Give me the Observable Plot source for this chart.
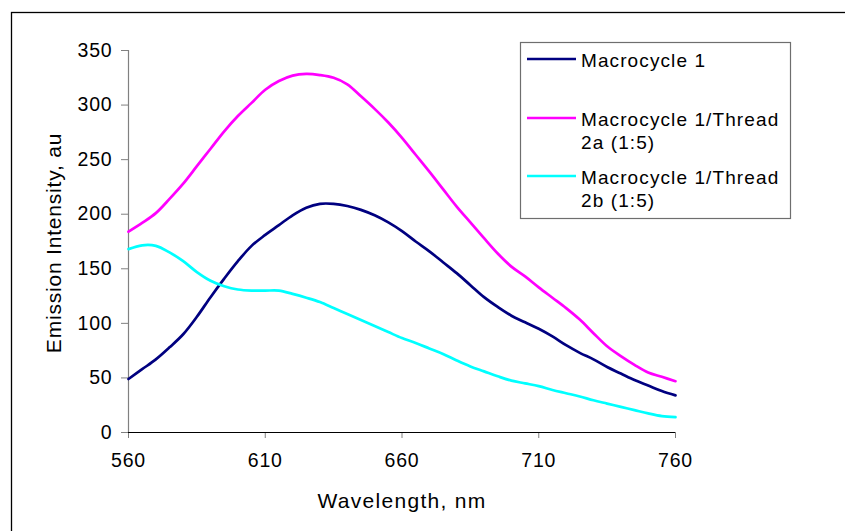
<!DOCTYPE html>
<html>
<head>
<meta charset="utf-8">
<script src="https://cdn.jsdelivr.net/npm/d3@7"></script>
<script src="https://cdn.jsdelivr.net/npm/@observablehq/plot@0.6"></script>
<style>
  html, body { margin: 0; padding: 0; background: #fff; }
  #chart { width: 845px; height: 531px; overflow: hidden; }
</style>
</head>
<body>
<div id="chart"></div>
<script>
// ---- data ----
const wavelengths = [560,565,570,575,580,585,590,595,600,605,610,615,620,625,630,635,640,645,650,655,660,
                     665,670,675,680,685,690,695,700,705,710,715,720,725,730,735,740,745,750,755,760];
const macrocycle1 = [49,58,67,78,90,106,124,141,157,171,181,190,199,206,209.5,209.5,207.5,204,199,192.5,184.5,
                     175,166,156,146,135,124,115,107,101,95,88,80,73,67,60,54,48,43,38,34];
const thread2a    = [184,192,201,214,228,244,260,276,290,302,314,322,327,328.5,327.5,325,319,308,296.5,284,270,
                     254.5,239,223,207,192.5,178,164,152,143,133,123.5,114,103.5,91,79,70,62,55,51,47];
const thread2b    = [168,171.5,171,165,157,147,139,134,131,130,130,130,127,123.5,119.5,114,108.5,103,97.5,92,86.5,
                     82,77,72,66,60.5,56,51.5,47.5,45,42.5,39,36,33,29.5,26.5,23.5,20.5,17.5,15,14];
const seriesNames = ["Macrocycle 1", "Macrocycle 1/Thread 2a (1:5)", "Macrocycle 1/Thread 2b (1:5)"];
const legendLines = [["Macrocycle 1"], ["Macrocycle 1/Thread", "2a (1:5)"], ["Macrocycle 1/Thread", "2b (1:5)"]];
const seriesColors = ["#000080", "#ff00ff", "#00ffff"];
const xTicks = [560, 610, 660, 710, 760];
const yTicks = [0, 50, 100, 150, 200, 250, 300, 350];
const xTitle = "Wavelength, nm";
const yTitle = "Emission Intensity, au";

const seriesValues = [macrocycle1, thread2a, thread2b];
const rows = [];
seriesValues.forEach((vals, s) => vals.forEach((v, i) => rows.push({series: seriesNames[s], x: wavelengths[i], y: v})));

const font = "'Liberation Sans', Arial, sans-serif";

const chart = Plot.plot({
  width: 845,
  height: 531,
  marginLeft: 128,
  marginRight: 170,
  marginTop: 50,
  marginBottom: 99,
  style: {fontFamily: font, fontSize: "19.5px", color: "#000", background: "#fff", overflow: "visible"},
  x: {domain: [560, 760], label: null},
  y: {domain: [0, 350], label: null},
  color: {domain: seriesNames, range: seriesColors},
  marks: [
    Plot.axisX({ticks: xTicks, tickSize: 6, tickPadding: 15, tickFormat: d => String(d), label: null, stroke: "#808080", fill: "#000", fontSize: 19.5}),
    Plot.axisY({ticks: yTicks, tickSize: 7, tickPadding: 9, tickFormat: d => String(d), label: null, stroke: "#808080", fill: "#000", fontSize: 19.5}),
    Plot.ruleX([560], {y1: 0, y2: 350, stroke: "#808080", strokeWidth: 1.2}),
    Plot.ruleY([0], {x1: 560, x2: 760, stroke: "#000", strokeWidth: 1.2}),
    Plot.line(rows, {x: "x", y: "y", z: "series", stroke: "series", strokeWidth: 2.7, curve: "catmull-rom"})
  ]
});

document.getElementById("chart").appendChild(chart);

const svg = d3.select(chart);
svg.selectAll("text").style("letter-spacing", "0.8px").style("font-size", "19.5px");

// outer chart-area border
svg.append("rect")
  .attr("x", 11.5).attr("y", 12.5).attr("width", 900).attr("height", 600)
  .attr("fill", "none").attr("stroke", "#000").attr("stroke-width", 1.3);

// axis titles
svg.append("text")
  .attr("x", 402).attr("y", 508)
  .attr("text-anchor", "middle")
  .style("font-family", font).style("font-size", "21px").style("letter-spacing", "1.3px")
  .attr("fill", "#000")
  .text(xTitle);

svg.append("text")
  .attr("transform", "translate(61,243) rotate(-90)")
  .attr("text-anchor", "middle")
  .style("font-family", font).style("font-size", "21px").style("letter-spacing", "0.8px")
  .attr("fill", "#000")
  .text(yTitle);

// legend
const lg = svg.append("g").attr("text-anchor", "start");
lg.append("rect")
  .attr("x", 520.5).attr("y", 42.5).attr("width", 270).attr("height", 176)
  .attr("fill", "#fff").attr("stroke", "#6e6e6e").attr("stroke-width", 1.2);
const lineYs = [59, 118, 176];
legendLines.forEach((lines, i) => {
  lg.append("line")
    .attr("x1", 527).attr("x2", 576).attr("y1", lineYs[i]).attr("y2", lineYs[i])
    .attr("stroke", seriesColors[i]).attr("stroke-width", 2.7);
  lines.forEach((t, j) => {
    lg.append("text")
      .attr("x", 581).attr("y", lineYs[i] + 7.5 + j * 23.5)
      .attr("text-anchor", "start")
      .style("font-family", font).style("font-size", "19px").style("letter-spacing", "1.1px")
      .attr("fill", "#000")
      .text(t);
  });
});
</script>
</body>
</html>
